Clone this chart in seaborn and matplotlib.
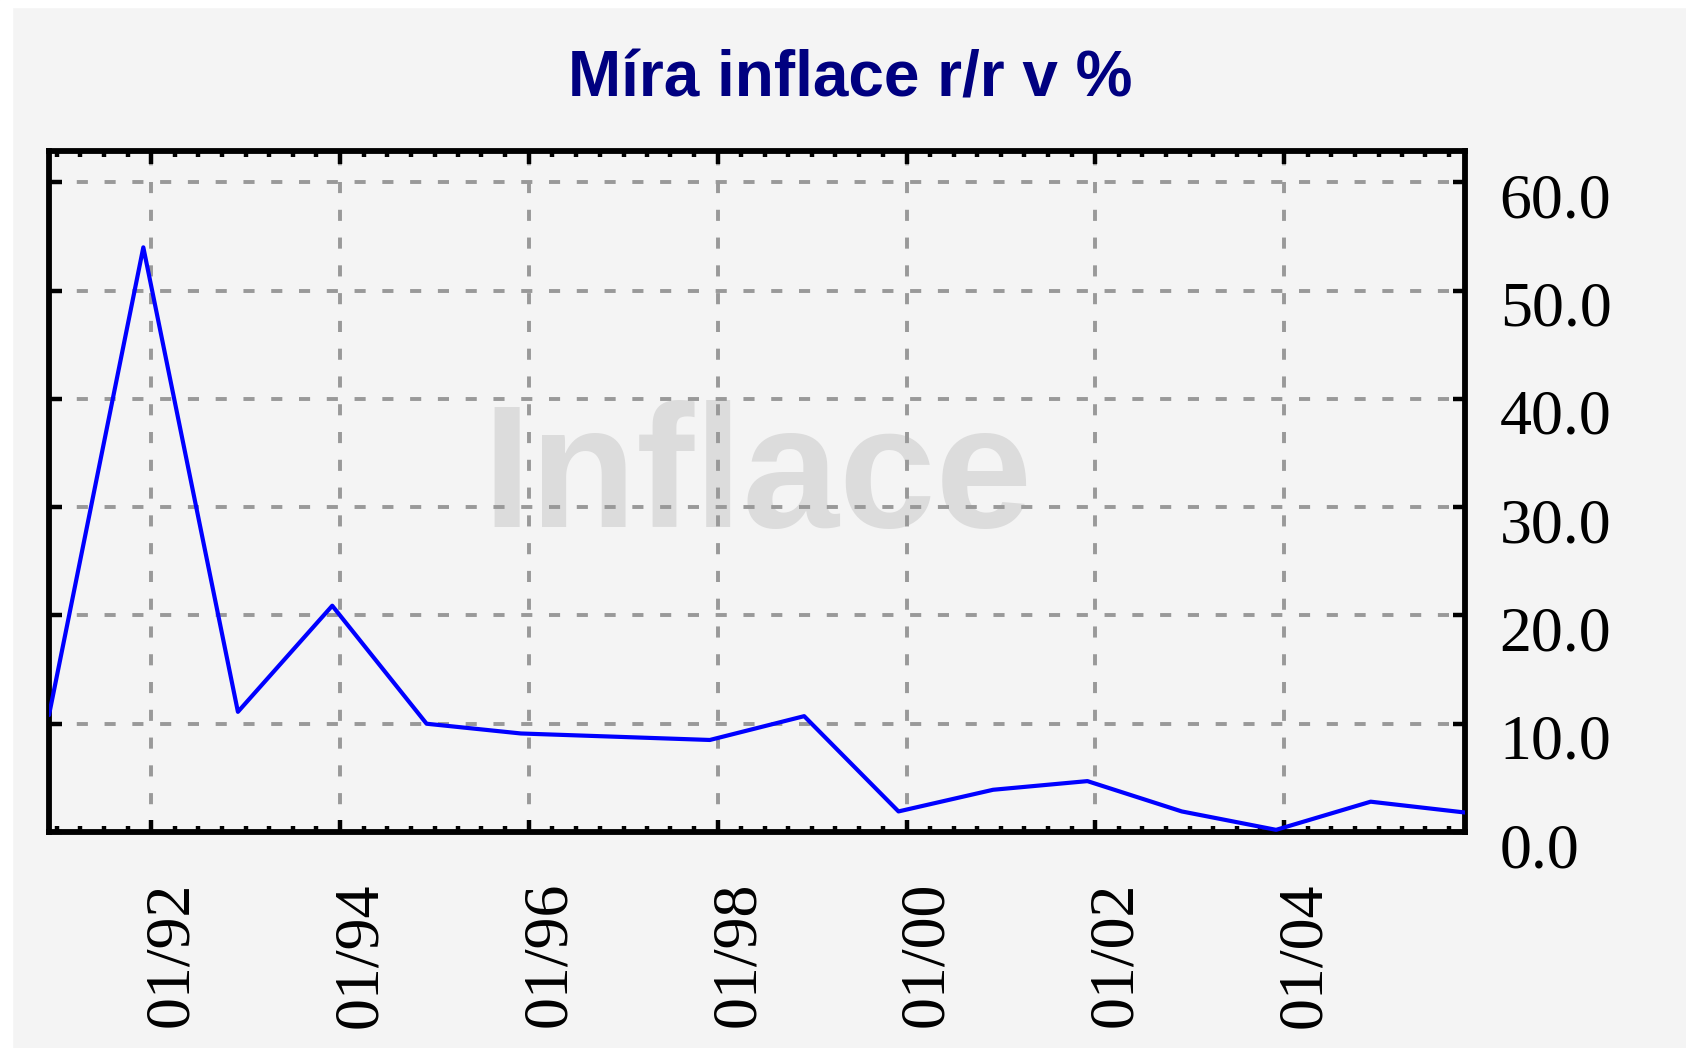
import pandas as pd
import matplotlib.pyplot as plt
from matplotlib.patches import Rectangle
from matplotlib.ticker import FormatStrFormatter
from matplotlib.transforms import ScaledTranslation
import matplotlib.dates as mdates
import seaborn as sns

# --- data (yearly inflation, plotted at December) ---
years = [1990, 1991, 1992, 1993, 1994, 1995, 1996, 1997,
         1998, 1999, 2000, 2001, 2002, 2003, 2004, 2005]
inflation = [10.8, 54.0, 11.1, 20.9, 10.0, 9.1, 8.8, 8.5,
             10.7, 1.9, 3.9, 4.7, 1.9, 0.2, 2.8, 1.8]

tick_dates = ['1992-01-01', '1994-01-01', '1996-01-01', '1998-01-01',
              '2000-01-01', '2002-01-01', '2004-01-01']
tick_labels = ['01/92', '01/94', '01/96', '01/98', '01/00', '01/02', '01/04']
y_ticks = [0, 10, 20, 30, 40, 50, 60]

title = "Míra inflace r/r v %"
watermark = "Inflace"

df = pd.DataFrame({'Date': pd.to_datetime([f"{y}-12-01" for y in years]),
                   'Inflace': inflation})

bg = '#f4f4f4'
sns.set_style('ticks', {'axes.facecolor': bg, 'figure.facecolor': bg,
                        'axes.edgecolor': 'black'})
plt.rcParams['lines.scale_dashes'] = False

fig = plt.figure(figsize=(16.86, 10.48), dpi=100)
ax = fig.add_axes([49 / 1686, 1 - 832 / 1048, 1416 / 1686, 681 / 1048])

# white strips at the top / left edge of the original image
fig.add_artist(Rectangle((0, 1 - 7 / 1048), 1, 7 / 1048, transform=fig.transFigure,
                         color='white', zorder=-1))
fig.add_artist(Rectangle((0, 0), 12 / 1686, 1, transform=fig.transFigure,
                         color='white', zorder=-1))

ax.text(0.5, 0.448, watermark, transform=ax.transAxes, ha='center', va='baseline',
        fontsize=125, fontweight='bold', family='Liberation Sans', color='#dcdcdc', zorder=0.1)

sns.lineplot(data=df, x='Date', y='Inflace', color='#0000ff', linewidth=3.0, ax=ax, zorder=3)

ax.set_xlim(df['Date'].iloc[0], df['Date'].iloc[-1])
ax.set_ylim(0, 62.9)
ax.set_xlabel('')
ax.set_ylabel('')

ax.set_xticks(pd.to_datetime(tick_dates), labels=tick_labels)
ax.xaxis.set_minor_locator(mdates.MonthLocator(bymonth=[1, 4, 7, 10]))
ax.set_yticks(y_ticks)
ax.yaxis.set_major_formatter(FormatStrFormatter('%.1f'))

ax.set_axisbelow(True)
ax.grid(True, which='major', color='#999999', linestyle=(0, (8, 12)), linewidth=2.8)

for s in ax.spines.values():
    s.set_linewidth(4.2)
    s.set_color('black')

ax.tick_params(which='both', direction='in', top=True, bottom=True, left=True, right=True,
               width=3.2, color='black', labelleft=False, labelright=True,
               labelsize=46, labelfontfamily='Liberation Serif', labelcolor='black')
ax.tick_params(which='major', length=9)
ax.tick_params(which='minor', length=4.5)
ax.tick_params(axis='x', labelrotation=90, pad=36)
ax.tick_params(axis='y', pad=25)

# labels in the original sit a little off their ticks
for tick in ax.xaxis.get_major_ticks():
    tick.label1.set_ha('left')
    tick.label1.set_transform(tick.label1.get_transform()
                              + ScaledTranslation(-0.08, 0, fig.dpi_scale_trans))
for tick in ax.yaxis.get_major_ticks():
    tick.label2.set_transform(tick.label2.get_transform()
                              + ScaledTranslation(0, -0.13, fig.dpi_scale_trans))

fig.text(0.504, 1 - 97 / 1048, title, ha='center', va='baseline', fontsize=46,
         fontweight='bold', family='Liberation Sans', color='#000080')

fig.savefig('out.png', dpi=100, facecolor=fig.get_facecolor())
